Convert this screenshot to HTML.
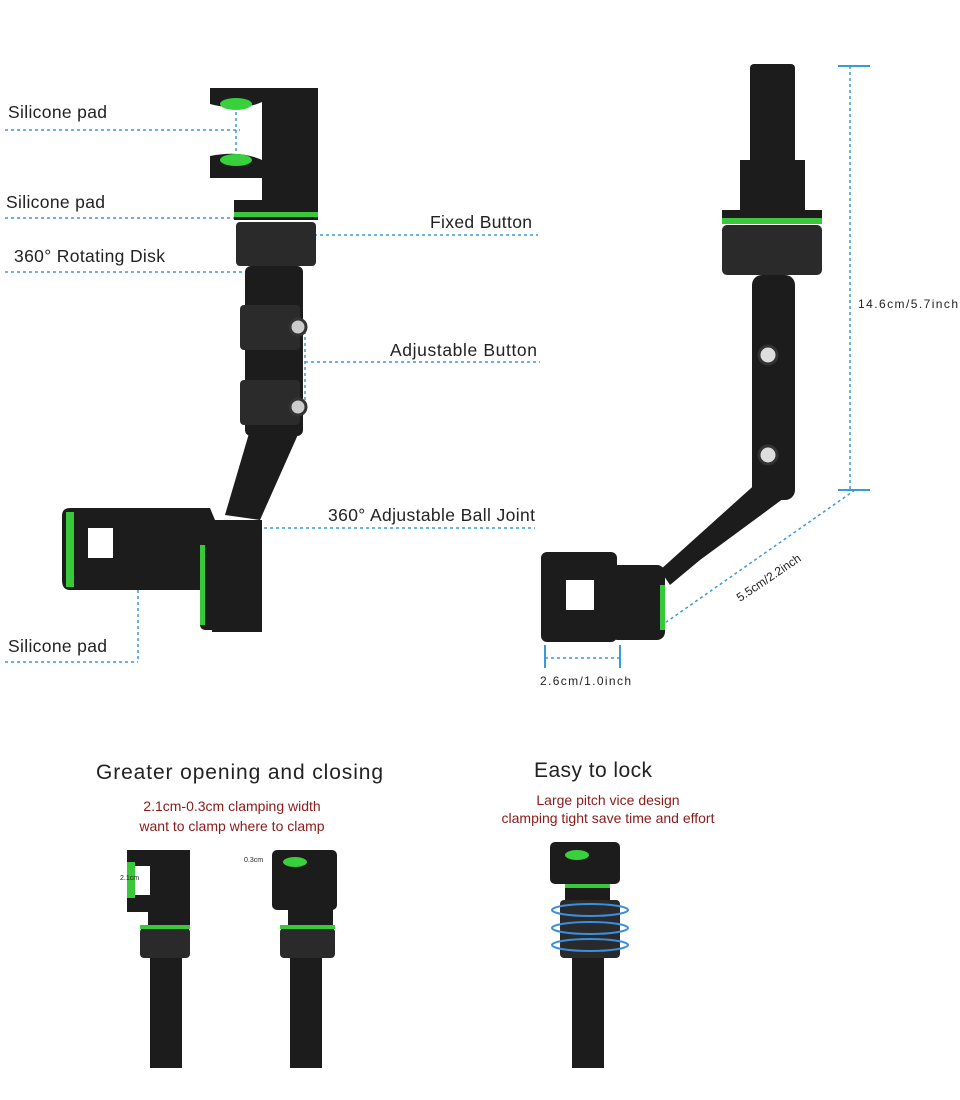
<!DOCTYPE html>
<html><head><meta charset="utf-8"><style>
html,body{margin:0;padding:0;background:#fff}
svg{display:block}
text{font-family:"Liberation Sans",sans-serif}
</style></head><body>
<svg width="960" height="1100" viewBox="0 0 960 1100" xmlns="http://www.w3.org/2000/svg">
<rect width="960" height="1100" fill="#fff"/>
<g font-size="17.5" fill="#222">
<text x="8" y="118" textLength="99">Silicone pad</text>
<text x="6" y="208" textLength="99">Silicone pad</text>
<text x="14" y="262" textLength="151">360° Rotating Disk</text>
<text x="430" y="228" textLength="102">Fixed Button</text>
<text x="390" y="356" textLength="147">Adjustable Button</text>
<text x="328" y="521" textLength="207">360° Adjustable Ball Joint</text>
<text x="8" y="652" textLength="99">Silicone pad</text>
</g>
<g stroke="#3a9ad9" stroke-width="1.5" stroke-dasharray="3,3" fill="none">
<line x1="5" y1="130" x2="240" y2="130"/>
<line x1="5" y1="218" x2="240" y2="218"/>
<line x1="5" y1="272" x2="262" y2="272"/>
<line x1="290" y1="235" x2="538" y2="235"/>
<line x1="305" y1="362" x2="540" y2="362"/>
<line x1="305" y1="325" x2="305" y2="410"/>
<line x1="240" y1="528" x2="535" y2="528"/>
<line x1="5" y1="662" x2="138" y2="662"/>
<line x1="138" y1="590" x2="138" y2="662"/>
<line x1="80" y1="580" x2="200" y2="580"/>
<line x1="236" y1="100" x2="236" y2="165"/>
<line x1="850" y1="66" x2="850" y2="490"/>
<line x1="855" y1="490" x2="662" y2="625"/>
<line x1="545" y1="658" x2="620" y2="658"/>
</g>
<g stroke="#3a9ad9" stroke-width="2"><line x1="838" y1="66" x2="870" y2="66"/><line x1="838" y1="490" x2="870" y2="490"/><line x1="545" y1="645" x2="545" y2="668"/><line x1="620" y1="645" x2="620" y2="668"/></g>
<text x="858" y="308" font-size="12" fill="#222" textLength="100">14.6cm/5.7inch</text>
<text x="540" y="685" font-size="12" fill="#222" textLength="91">2.6cm/1.0inch</text>
<text transform="translate(740,602) rotate(-34)" font-size="12" fill="#222">5.5cm/2.2inch</text>
<!-- left device -->
<g fill="#1c1c1c">
<path d="M210 88 H318 V108 H285 V150 H318 V178 H210 V156 Q240 150 262 160 V102 Q240 112 210 104 Z"/>
<rect x="262" y="90" width="56" height="125" rx="6"/>
<rect x="234" y="200" width="84" height="20"/>
<rect x="236" y="222" width="80" height="44" rx="4" fill="#2a2a2a"/>
<rect x="245" y="266" width="58" height="170" rx="6"/>
<rect x="240" y="305" width="60" height="45" rx="4" fill="#2b2b2b"/>
<rect x="240" y="380" width="60" height="45" rx="4" fill="#2b2b2b"/>
<path d="M250 430 H300 L260 520 L225 515 Z"/>
<path d="M70 508 H210 L215 520 H262 V632 H212 V605 H238 V570 H212 L205 590 H70 Q62 590 62 580 V516 Q62 508 70 508 Z"/>
<rect x="200" y="525" width="62" height="105" rx="5"/>
</g>
<ellipse cx="236" cy="104" rx="16" ry="6" fill="#38d13b"/>
<ellipse cx="236" cy="160" rx="16" ry="6" fill="#38d13b"/>
<rect x="234" y="212" width="84" height="5" fill="#3cc83c"/>
<circle cx="298" cy="327" r="8" fill="#ccc" stroke="#333" stroke-width="3"/>
<circle cx="298" cy="407" r="8" fill="#ccc" stroke="#333" stroke-width="3"/>
<rect x="66" y="512" width="8" height="75" fill="#38c83a"/>
<rect x="88" y="528" width="25" height="30" fill="#fff"/>
<rect x="200" y="545" width="5" height="80" fill="#38c83a"/>
<!-- right device -->
<g fill="#1c1c1c">
<rect x="750" y="64" width="45" height="100" rx="4"/>
<rect x="740" y="160" width="65" height="55"/>
<rect x="722" y="210" width="100" height="12"/>
<rect x="722" y="225" width="100" height="50" rx="5" fill="#2a2a2a"/>
<rect x="752" y="275" width="43" height="225" rx="10"/>
<path d="M760 480 L795 490 L700 560 L670 585 L660 570 Z"/>
<rect x="541" y="552" width="76" height="90" rx="6"/>
<rect x="610" y="565" width="55" height="75" rx="8"/>
</g>
<rect x="722" y="218" width="100" height="6" fill="#3cc83c"/>
<rect x="566" y="580" width="28" height="30" fill="#fff"/>
<circle cx="768" cy="355" r="9" fill="#ddd" stroke="#333" stroke-width="3"/>
<circle cx="768" cy="455" r="9" fill="#ddd" stroke="#333" stroke-width="3"/>
<rect x="660" y="585" width="5" height="45" fill="#38c83a"/>
<!-- bottom -->
<text x="96" y="779" font-size="21" fill="#222" textLength="287">Greater opening and closing</text>
<text x="534" y="777" font-size="21" fill="#222" textLength="118">Easy to lock</text>
<g font-size="14" fill="#8b1a1a" text-anchor="middle">
<text x="232" y="811">2.1cm-0.3cm clamping width</text>
<text x="232" y="831">want to clamp where to clamp</text>
<text x="608" y="805">Large pitch vice design</text>
<text x="608" y="823">clamping tight save time and effort</text>
</g>
<g fill="#1c1c1c">
<path d="M127 850 H190 V912 H127 V895 H150 V866 H127 Z"/>
<rect x="148" y="895" width="42" height="30"/>
<rect x="140" y="928" width="50" height="30" rx="4" fill="#2a2a2a"/>
<rect x="150" y="958" width="32" height="110"/>
<rect x="272" y="850" width="65" height="60" rx="5"/>
<rect x="288" y="895" width="45" height="30"/>
<rect x="280" y="928" width="55" height="30" rx="4" fill="#2a2a2a"/>
<rect x="290" y="958" width="32" height="110"/>
<rect x="550" y="842" width="70" height="42" rx="5"/>
<rect x="565" y="884" width="45" height="35"/>
<rect x="560" y="900" width="60" height="58" rx="4" fill="#2a2a2a"/>
<rect x="572" y="958" width="32" height="110"/>
</g>
<rect x="133" y="866" width="17" height="29" fill="#fff"/>
<rect x="140" y="925" width="50" height="4" fill="#3cc83c"/>
<rect x="280" y="925" width="55" height="4" fill="#3cc83c"/>
<rect x="565" y="884" width="45" height="4" fill="#3cc83c"/>
<ellipse cx="295" cy="862" rx="12" ry="5" fill="#38d13b"/>
<ellipse cx="577" cy="855" rx="12" ry="5" fill="#38d13b"/>
<rect x="127" y="862" width="8" height="36" fill="#38c83a"/>
<text x="120" y="880" font-size="7" fill="#222">2.1cm</text>
<text x="244" y="862" font-size="7" fill="#222">0.3cm</text>
<g stroke="#3a8fe0" stroke-width="2" fill="none">
<ellipse cx="590" cy="910" rx="38" ry="6"/><ellipse cx="590" cy="928" rx="38" ry="6"/><ellipse cx="590" cy="945" rx="38" ry="6"/>
</g>
</svg>
</body></html>
